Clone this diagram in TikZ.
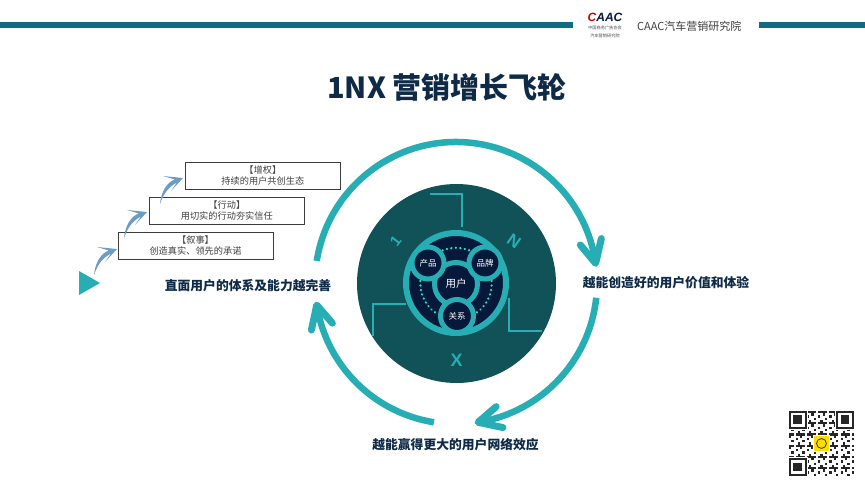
\documentclass[tikz,border=0pt]{standalone}
\usepackage{fontspec}
\setmainfont{Noto Sans CJK SC}
\newfontfamily\latinfont{Liberation Sans}
\usetikzlibrary{calc}
\definecolor{teal1}{HTML}{27AEB5}
\definecolor{bar1}{HTML}{0F6C85}
\definecolor{disc1}{HTML}{105257}
\definecolor{navy1}{HTML}{07193B}
\definecolor{mint1}{HTML}{1FE6C4}
\definecolor{title1}{HTML}{0E2A47}
\definecolor{blue1}{HTML}{6C9BC4}
\definecolor{box1}{HTML}{3C3C3C}
\tikzset{
  px/.style={font=\fontsize{#1}{#1}\selectfont},
  bold label/.style={text=title1,font=\fontsize{12.8}{13}\selectfont\bfseries,inner sep=0pt},
  stair box/.style={draw=box1,line width=0.8pt,fill=white,minimum width=155pt,minimum height=27pt,inner sep=0pt,align=center,
    text=black!75,font=\fontsize{9.2}{10.5}\selectfont},
  bracket/.style={draw=teal1,line width=2.2pt},
  ring/.style={draw=teal1,line width=5pt,fill=navy1},
  cell label/.style={text=white,inner sep=0pt},
  dotarc/.style={draw=mint1,line width=2.4pt,line cap=round,dash pattern=on 0.1pt off 4.4pt},
  flywheel/.style={draw=teal1,line width=6.5pt},
  chevron/.style={draw=teal1,line width=7pt,line cap=round,line join=round}
}
% angles are given as they appear on a y-down canvas
% #1 start angle, #2 tip angle, #3 barb angle
\newcommand{\arcarrow}[3]{%
  \draw[flywheel] ($(O)+(#1:141)$) arc[start angle=#1,end angle=#2,radius=141];
  \draw[chevron] ($(O)+(#3:130)$) -- ($(O)+(#2:141)$) -- ($(O)+(#3:152)$);
}
\newcommand{\stairarrow}[2]{%
  \begin{scope}[shift={(#1,#2)}]
    \fill[blue1] (94,275) .. controls (98,263) and (104,257) .. (111,253.5)
       -- (105,262) -- (117,249) -- (97,247) -- (109,250.5)
       .. controls (101,253) and (95,263) .. (94,275) -- cycle;
  \end{scope}
}
\begin{document}
\begin{tikzpicture}[x=1pt,y=-1pt]
\useasboundingbox (0,0) rectangle (865,487);
\fill[white] (0,0) rectangle (865,487);
% header bars
\fill[bar1] (0,22) rectangle (573,28);
\fill[bar1] (759,22) rectangle (865,28);
% logo
\node[inner sep=0pt,font=\fontsize{12}{13}\latinfont\bfseries\itshape] (logo) at (605,17.5) {\textcolor{red!80!black}{C}\textcolor{navy1}{AAC}};
\node[inner sep=0pt,text=black!70,font=\fontsize{4.2}{8}\selectfont,align=center] (logotext) at (605,32) {中国商务广告协会\\汽车营销研究院};
\node[px=11,text=black!75,inner sep=0pt,anchor=west] (head) at (637,26) {CAAC汽车营销研究院};
% title
\node[text=title1,inner sep=0pt,font=\fontsize{29}{30}\selectfont\bfseries] (title) at (447,87) {1NX 营销增长飞轮};
% flywheel
\coordinate (O) at (456,283);
\arcarrow{-171}{-8}{-17}
\arcarrow{6}{81}{72}
\arcarrow{99}{171}{162}
\fill[disc1] (456.5,283.5) circle (99.5);
\draw[bracket] (430,194.3) -- (462.3,194.3) -- (462.3,226.7);
\draw[bracket] (405.7,304.3) -- (372.7,304.3) -- (372.7,335.7);
\draw[bracket] (509,298.3) -- (509,330.7) -- (541.7,330.7);
\draw[ring,line width=6pt] (456,283) circle (50);
\draw[dotarc] ($(456,283.5)+(-112:35.7)$) arc[start angle=-112,end angle=-68,radius=35.7];
\draw[dotarc] ($(456,283.5)+(-176:35.7)$) arc[start angle=-176,end angle=-238,radius=35.7];
\draw[dotarc] ($(456,283.5)+(-4:35.7)$) arc[start angle=-4,end angle=56,radius=35.7];
\node[ring,circle,minimum size=43pt,inner sep=0pt,cell label,px=10.5] (user) at (456,284) {用户};
\node[ring,circle,minimum size=32pt,inner sep=0pt,cell label,px=8.5] (prod) at (428,263) {产品};
\node[ring,circle,minimum size=32pt,inner sep=0pt,cell label,px=8.5] (brand) at (485,263) {品牌};
\node[ring,circle,minimum size=33pt,inner sep=0pt,cell label,px=8.5] (rel) at (457,316) {关系};
\node[text=teal1,rotate=52,inner sep=0pt,font=\fontsize{15}{15}\latinfont\bfseries] (one) at (395.7,240.7) {1};
\node[text=teal1,rotate=-35,inner sep=0pt,font=\fontsize{17}{17}\latinfont\bfseries] (n) at (514,241.7) {N};
\node[text=teal1,inner sep=0pt,font=\fontsize{18}{18}\latinfont\bfseries] (x) at (456.7,360.7) {X};
% labels
\node[bold label] (l1) at (248,286) {直面用户的体系及能力越完善};
\node[bold label] (l2) at (666,283) {越能创造好的用户价值和体验};
\node[bold label] (l3) at (455.5,444.5) {越能赢得更大的用户网络效应};
% stairs
\fill[teal1] (79,271) -- (100,283) -- (79,295) -- cycle;
\node[stair box] (b1) at (195.5,245.5) {【叙事】\\创造真实、领先的承诺};
\node[stair box] (b2) at (226.8,210.5) {【行动】\\用切实的行动夯实信任};
\node[stair box] (b3) at (262.8,175.5) {【增权】\\持续的用户共创生态};
\stairarrow{0}{0}
\stairarrow{30}{-37}
\stairarrow{66}{-71}
% QR
\begin{scope}[shift={(789,411)},x=2.24pt,y=-2.24pt]
  \foreach \i in {0,...,28}{\foreach \j in {0,...,28}{
    \pgfmathtruncatemacro{\v}{mod(\i*\i*3+\j*\j*5+\i*\j*2+3*\i+\j,5)}
    \ifnum\v<2 \fill[black!85] (\i,\j) rectangle ++(1.02,1.02);\fi
  }}
  \foreach \a/\b in {0/0,21/0,0/21}{
    \fill[white] (\a-0.5,\b-0.5) rectangle ++(9,9);
    \fill[black!85] (\a,\b) rectangle ++(8,8);
    \fill[white] (\a+1,\b+1) rectangle ++(6,6);
    \fill[black!85] (\a+2,\b+2) rectangle ++(4,4);
  }
  \fill[white] (10.5,10.5) rectangle ++(8,8);
  \fill[yellow!80!orange] (11,11) rectangle ++(7,7);
  \draw[black!80,line width=0.8pt] (14.5,14.5) circle (2.2);
\end{scope}
\end{tikzpicture}
\end{document}
